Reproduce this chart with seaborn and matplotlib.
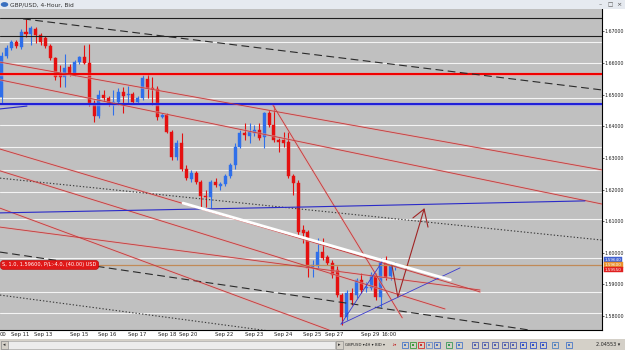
import numpy as np
import pandas as pd
import matplotlib
matplotlib.use("Agg")
import matplotlib.pyplot as plt
from matplotlib.patches import Rectangle
import seaborn as sns

# ---------------- data (GBP/USD 4H) ----------------
opens = [1.6493, 1.6622, 1.6648, 1.6667, 1.6651, 1.6698, 1.6692, 1.6708, 1.6689, 1.6679,
         1.6654, 1.6616, 1.6562, 1.6556, 1.6588, 1.6566, 1.6603, 1.6619, 1.6600, 1.6474,
         1.6433, 1.6499, 1.6490, 1.6467, 1.6477, 1.6509, 1.6499, 1.6502, 1.6477, 1.6490,
         1.6550, 1.6521, 1.6518, 1.6429, 1.6436, 1.6382, 1.6303, 1.6347, 1.6265, 1.6233,
         1.6252, 1.6224, 1.6179, 1.6176, 1.6224, 1.6211, 1.6217, 1.6243, 1.6278, 1.6334,
         1.6379, 1.6369, 1.6379, 1.6388, 1.6366, 1.6442, 1.6404, 1.6357, 1.6357, 1.6350,
         1.6243, 1.6221, 1.6072, 1.6066, 1.5955, 1.5958, 1.6002, 1.5986, 1.5967, 1.5945,
         1.5866, 1.5797, 1.5872, 1.5866, 1.5914, 1.5888, 1.5888, 1.5930, 1.5860, 1.5971,
         1.5926, 1.5955]
highs = [1.6635, 1.6657, 1.6673, 1.6673, 1.6708, 1.6740, 1.6717, 1.6714, 1.6695, 1.6686,
         1.6660, 1.6619, 1.6594, 1.6629, 1.6597, 1.6610, 1.6622, 1.6657, 1.6660, 1.6483,
         1.6515, 1.6515, 1.6496, 1.6515, 1.6521, 1.6524, 1.6528, 1.6509, 1.6496, 1.6562,
         1.6569, 1.6556, 1.6528, 1.6442, 1.6442, 1.6388, 1.6357, 1.6379, 1.6278, 1.6262,
         1.6259, 1.6230, 1.6198, 1.6230, 1.6236, 1.6224, 1.6249, 1.6284, 1.6347, 1.6388,
         1.6410, 1.6410, 1.6404, 1.6410, 1.6445, 1.6452, 1.6467, 1.6363, 1.6382, 1.6382,
         1.6249, 1.6230, 1.6088, 1.6072, 1.5977, 1.6047, 1.6047, 1.5993, 1.5977, 1.5958,
         1.5872, 1.5882, 1.5888, 1.5920, 1.5936, 1.5907, 1.5939, 1.5936, 1.5983, 1.5990,
         1.5967, 1.5971]
lows = [1.6474, 1.6616, 1.6641, 1.6648, 1.6645, 1.6683, 1.6657, 1.6664, 1.6657, 1.6648,
        1.6610, 1.6547, 1.6524, 1.6524, 1.6559, 1.6559, 1.6597, 1.6597, 1.6464, 1.6414,
        1.6426, 1.6480, 1.6464, 1.6436, 1.6467, 1.6442, 1.6474, 1.6471, 1.6471, 1.6483,
        1.6490, 1.6467, 1.6420, 1.6426, 1.6379, 1.6293, 1.6293, 1.6259, 1.6230, 1.6224,
        1.6217, 1.6145, 1.6145, 1.6141, 1.6208, 1.6198, 1.6211, 1.6236, 1.6265, 1.6331,
        1.6357, 1.6347, 1.6369, 1.6357, 1.6331, 1.6398, 1.6350, 1.6319, 1.6334, 1.6236,
        1.6183, 1.6056, 1.6031, 1.5923, 1.5923, 1.5952, 1.5977, 1.5961, 1.5920, 1.5860,
        1.5771, 1.5787, 1.5835, 1.5857, 1.5872, 1.5876, 1.5882, 1.5850, 1.5828, 1.5914,
        1.5914, 1.5945]
closes = [1.6622, 1.6648, 1.6667, 1.6654, 1.6698, 1.6692, 1.6711, 1.6689, 1.6667, 1.6654,
          1.6616, 1.6556, 1.6556, 1.6584, 1.6566, 1.6603, 1.6619, 1.6600, 1.6474, 1.6433,
          1.6499, 1.6490, 1.6471, 1.6477, 1.6509, 1.6496, 1.6502, 1.6477, 1.6490, 1.6553,
          1.6521, 1.6518, 1.6429, 1.6436, 1.6382, 1.6303, 1.6347, 1.6265, 1.6236, 1.6252,
          1.6224, 1.6179, 1.6176, 1.6224, 1.6214, 1.6217, 1.6243, 1.6278, 1.6334, 1.6379,
          1.6372, 1.6382, 1.6388, 1.6363, 1.6442, 1.6404, 1.6357, 1.6350, 1.6347, 1.6243,
          1.6221, 1.6066, 1.6062, 1.5952, 1.5961, 1.6002, 1.5983, 1.5967, 1.5930, 1.5866,
          1.5797, 1.5872, 1.5850, 1.5914, 1.5882, 1.5891, 1.5930, 1.5860, 1.5971, 1.5923,
          1.5958, 1.5961]

price_ticks = [1.58, 1.59, 1.60, 1.61, 1.62, 1.63, 1.64, 1.65, 1.66, 1.67]
date_labels = ["00", "Sep 11", "Sep 13", "Sep 15", "Sep 16", "Sep 17", "Sep 18", "Sep 20",
               "Sep 22", "Sep 23", "Sep 24", "Sep 25", "Sep 27", "Sep 29", "16:00"]
date_bars = [0.3, 3.8, 8.5, 15.9, 21.7, 27.8, 34.0, 38.3, 45.7, 51.9, 57.9, 63.8, 68.4, 75.8, 79.7]

# horizontal objects (prices)
white_levels = [1.6667, 1.6600, 1.6490, 1.6404, 1.6334, 1.6262, 1.6192, 1.6107, 1.5984, 1.5876, 1.5809]
black_levels = [1.6743, 1.6686]
red_level = 1.6566
blue_level = 1.6469
order_price = 1.5960

# trend-line anchors: (bar, price)
dash_top_bars, dash_top_prices = [4.4, 123.5], [1.6740, 1.6515]
dot_mid_bars, dot_mid_prices = [-0.35, 123.5], [1.6236, 1.6040]
dash_low_bars, dash_low_prices = [-0.35, 108.7], [1.6002, 1.5755]
dot_low_bars, dot_low_prices = [-0.35, 55.2], [1.5866, 1.5752]
red_lines = [
    ([-0.35, 123.5], [1.6603, 1.6262]),
    ([-0.35, 123.5], [1.6547, 1.6154]),
    ([-0.35, 98.4], [1.6328, 1.5876]),
    ([-0.35, 91.2], [1.6259, 1.5822]),
    ([-0.35, 67.4], [1.6141, 1.5755]),
    ([-0.35, 98.4], [1.6081, 1.5882]),
    ([55.8, 82.4], [1.6467, 1.5794]),
]
white_bars, white_prices = [37.3, 92.3], [1.6157, 1.5914]
ma_bars, ma_prices = [-0.35, 63.4, 120.0], [1.6126, 1.6145, 1.6164]
blue_short_bars, blue_short_prices = [-0.35, 5.2], [1.6455, 1.6464]
blue_fan = [([69.8, 94.3], [1.5774, 1.5952]), ([69.8, 78.5], [1.5774, 1.5977])]
arrow_bars, arrow_prices = [80.3, 81.5, 86.9], [1.5958, 1.5860, 1.6138]
head_bars, head_prices = [84.6, 86.9, 87.7], [1.6110, 1.6138, 1.6081]

# ---------------- figure ----------------
sns.set_theme(style="white")
plt.rcParams['font.family'] = ['DejaVu Sans']

W, H = 625, 350
fig = plt.figure(figsize=(W / 100, H / 100), dpi=100)
fig.patch.set_facecolor('white')
ax = fig.add_axes([0, 20 / H, 602 / W, 321 / H])
ax.set_facecolor('#C0C0C0')
ax.set_xlim(-0.35, 123.5)
ax.set_ylim(1.57554, 1.67712)

# grid-like white levels
for p in white_levels:
    ax.axhline(p, color='#F4F4F4', lw=0.8, zorder=1)

# candles
BULL, BEAR = '#2F6FEA', '#E41010'
for i, (o, h, l, c) in enumerate(zip(opens, highs, lows, closes)):
    col = BULL if c >= o else BEAR
    ax.vlines(i, l, h, color=col, lw=0.8, zorder=2)
    ax.bar(i, max(abs(c - o), 0.00025), bottom=min(o, c), width=0.62,
           color=col, edgecolor=col, lw=0.3, zorder=2.1)


def seg(xs, ps, color, lw, halo=None, dashes=None, z=3):
    df = pd.DataFrame({'bar': xs, 'price': ps})
    if halo is not None:
        sns.lineplot(data=df, x='bar', y='price', ax=ax, color=halo, lw=lw + 1.0,
                     sort=False, estimator=None, legend=False, zorder=z - 0.05, alpha=0.6)
    sns.lineplot(data=df, x='bar', y='price', ax=ax, color=color, lw=lw,
                 sort=False, estimator=None, legend=False, zorder=z)
    ln = ax.lines[-1]
    if dashes is not None:
        ln.set_dashes(dashes)
    return ln


full = [-0.35, 123.5]
for p in black_levels:
    seg(full, [p, p], '#1E1E1E', 0.8)
seg(full, [red_level, red_level], '#F00000', 1.5, halo='#F0A0A0')
seg(full, [blue_level, blue_level], '#2020D8', 1.5, halo='#A0A0F0')
seg([20.0, 123.5], [order_price, order_price], '#C08A58', 0.9)

seg(dash_top_bars, dash_top_prices, '#2A2A2A', 0.8, dashes=(7, 4))
seg(dot_mid_bars, dot_mid_prices, '#3A3A3A', 0.8, dashes=(1.2, 1.8))
seg(dash_low_bars, dash_low_prices, '#2A2A2A', 0.8, dashes=(7, 4))
seg(dot_low_bars, dot_low_prices, '#3A3A3A', 0.8, dashes=(1.2, 1.8))
for xs, ps in red_lines:
    seg(xs, ps, '#C23A3A', 0.6, halo='#E3A3A3')
seg(ma_bars, ma_prices, '#2A2AC8', 0.8)
seg(blue_short_bars, blue_short_prices, '#2A2AC8', 0.8)
seg(white_bars, white_prices, '#FFFFFF', 2.0, z=3.5)
for xs, ps in blue_fan:
    seg(xs, ps, '#3A3AD0', 0.6)
seg(arrow_bars, arrow_prices, '#A02424', 0.8)
seg(head_bars, head_prices, '#A02424', 0.8)

ax.set_xlabel('')
ax.set_ylabel('')

# axes styling
for s in ['top', 'left']:
    ax.spines[s].set_visible(False)
for s in ['right', 'bottom']:
    ax.spines[s].set_color('black')
    ax.spines[s].set_linewidth(0.8)
ax.yaxis.tick_right()
ax.set_yticks(price_ticks)
ax.set_yticklabels([f"{v:.5f}" for v in price_ticks], fontsize=3.4, color='#202020')
ax.tick_params(axis='y', length=1.5, width=0.5, pad=0.4, colors='#202020')
ax.set_xticks(date_bars)
ax.set_xticklabels(date_labels, fontsize=3.8, color='#202020')
ax.tick_params(axis='x', length=0, pad=1.2)
ax.set_xticks(np.arange(2.0, 123.0, 3.0), minor=True)
ax.tick_params(axis='x', which='minor', length=2, width=0.5, color='#202020')
ax.grid(False)

# order label
ax.text(0.004, order_price + 0.00012, "S, 1.0, 1.59600, P/L:-4.0, (40.00) USD",
        transform=ax.get_yaxis_transform(), fontsize=3.6, color='white', va='center', ha='left',
        bbox=dict(boxstyle='round,pad=0.4,rounding_size=0.7', fc='#E01818', ec='#B00000', lw=0.4),
        zorder=6)

# price labels on right axis
for p, txt, fc in [(1.5977, "1.59640", '#4060D0'), (1.5961, "1.59600", '#E8902C'),
                   (1.5946, "1.59550", '#E02020')]:
    ax.text(1.005, p, txt, transform=ax.get_yaxis_transform(), fontsize=3.0, color='white',
            va='center', ha='left', clip_on=False, zorder=7,
            bbox=dict(boxstyle='square,pad=0.15', fc=fc, ec=fc, lw=0.3))

# ---------------- window chrome ----------------
def px_rect(x, y, w, h, fc, ec='none', lw=0.0):
    fig.add_artist(Rectangle((x / W, 1 - (y + h) / H), w / W, h / H, transform=fig.transFigure,
                             fc=fc, ec=ec, lw=lw))


def px_text(x, y, s, **kw):
    fig.text(x / W, 1 - y / H, s, **kw)


# title bar
px_rect(0, 0, 625, 9, '#E6EAF0')
px_rect(0, 8.5, 625, 0.6, '#B8BCC4')
fig.add_artist(plt.Circle((4.5 / W, 1 - 4.5 / H), 3 / W, transform=fig.transFigure, color='#3A70C0'))
px_text(10, 4.8, "GBP/USD, 4-Hour, Bid", fontsize=4.2, color='#303030', va='center', ha='left')
px_text(600, 4.8, "–", fontsize=4.5, color='#505050', va='center', ha='center')
px_text(610, 4.8, "□", fontsize=4.0, color='#505050', va='center', ha='center')
px_text(619, 4.8, "×", fontsize=4.5, color='#505050', va='center', ha='center')

# bottom toolbar
px_rect(0, 339, 625, 11, '#D4D0C8')
px_rect(1, 340.5, 334, 8, '#ECECEC', ec='#A0A0A0', lw=0.4)
px_rect(1, 340.5, 7, 8, '#D4D0C8', ec='#808080', lw=0.4)
px_text(4.5, 344.5, "◂", fontsize=3.5, color='#303030', va='center', ha='center')
px_rect(336, 340.5, 7, 8, '#D4D0C8', ec='#808080', lw=0.4)
px_text(339.5, 344.5, "▸", fontsize=3.5, color='#303030', va='center', ha='center')
for x, s in [(345, "GBPUSD ▾"), (365, "4H ▾"), (375, "BID ▾")]:
    px_text(x, 344.5, s, fontsize=2.8, color='#202020', va='center', ha='left')
px_text(391, 344.5, "↓▾", fontsize=2.8, color='#C02020', va='center', ha='left')
icon_x = [402, 410, 418, 426, 434, 446, 456, 472, 482, 492, 502, 510, 520, 530, 540, 552, 566]
icon_c = ['#4A78C8', '#3C9A3C', '#D03030', '#6A8AC8', '#5070C0', '#3A9A5A', '#4A78C8',
          '#5060B0', '#5060B0', '#5060B0', '#5060B0', '#5060B0', '#3050C8', '#3050C8',
          '#3050C8', '#5080C0', '#4A78C8']
for x, c in zip(icon_x, icon_c):
    px_rect(x, 341.5, 6, 6, '#D4D0C8', ec=c, lw=0.6)
    px_rect(x + 2, 343.5, 2, 2, c)
px_text(596, 344.5, "2.04553 ▾", fontsize=3.5, color='#202020', va='center', ha='left')

fig.savefig("out.png", dpi=100, facecolor=fig.get_facecolor())
